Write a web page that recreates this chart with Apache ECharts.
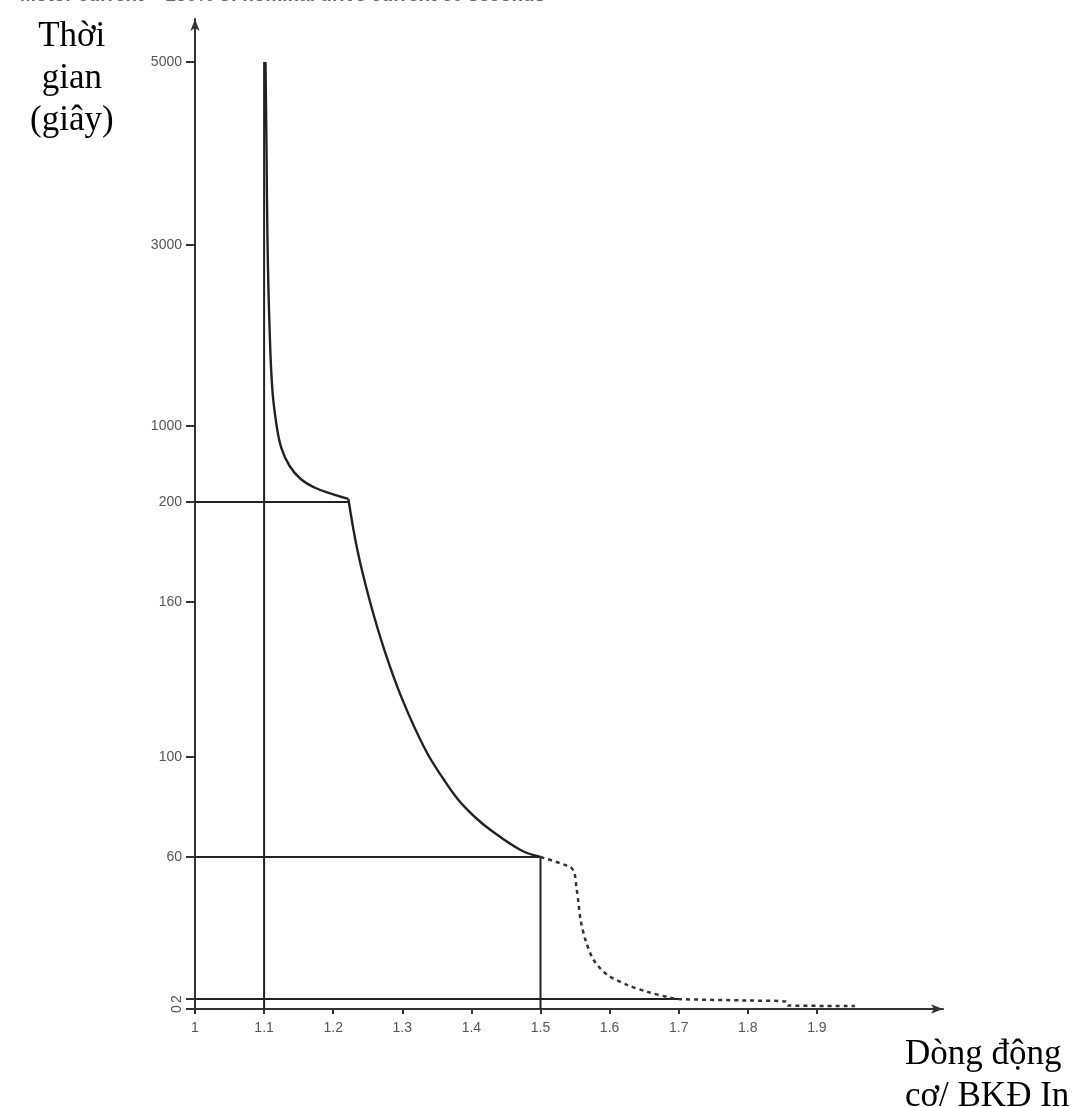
<!DOCTYPE html>
<html><head><meta charset="utf-8">
<script src="https://cdn.jsdelivr.net/npm/echarts@6/dist/echarts.min.js"></script>
<style>html,body{margin:0;padding:0;background:#fff}#c{width:1086px;height:1107px}</style>
</head><body><div id="c"></div>
<script>
// ---- data ----
const xTickValues = [1, 1.1, 1.2, 1.3, 1.4, 1.5, 1.6, 1.7, 1.8, 1.9];
const yTickValues = [0, 2, 60, 100, 160, 200, 1000, 3000, 5000];
// schematic (non-linear) y scale: level of each tick on the axis
const yTickLevels = [0, 1, 15.2, 25.2, 40.7, 50.7, 58.3, 76.4, 94.7];

const upperX = [1.102, 1.1035, 1.105, 1.108, 1.112, 1.118, 1.125, 1.137, 1.153, 1.1744, 1.199, 1.222];
const upperT = [5000, 4038, 3000, 2061, 1398, 1011, 768, 579, 442, 347, 284, 232];
const lowerX = [1.222, 1.235, 1.2526, 1.2741, 1.3003, 1.3336, 1.36, 1.3813, 1.405, 1.4278, 1.4711, 1.5];
const lowerT = [232, 180.8, 160.8, 141.4, 122.1, 102.7, 91, 82.8, 76, 70.8, 62.8, 60];
const dottedX = [1.5, 1.543, 1.549, 1.552, 1.555, 1.558, 1.565, 1.577, 1.597, 1.626, 1.655, 1.684, 1.70, 1.80, 1.855, 1.858, 1.955];
const dottedT = [60, 55.9, 53.5, 47.7, 41.2, 34.3, 26.2, 17.9, 11.8, 7.7, 4.9, 2.8, 2.0, 1.7, 1.5, 0.7, 0.6];

const refHT = [200, 60, 2];          // horizontal reference levels (s)
const refHEndX = [1.222, 1.5, 1.7];  // where they end
const refVX = [1.1, 1.5];            // vertical reference currents
const refVTopT = [5000, 60];

const topNote = 'Motor current = 150% of nominal drive current 60 seconds';
const yTitle = 'Thời\ngian\n(giây)';
const xTitle = 'Dòng động\ncơ/ BKĐ In';

// ---- schematic scale ----
function lv(t) {
  for (let i = 0; i < yTickValues.length - 1; i++) {
    if (t <= yTickValues[i + 1]) {
      return yTickLevels[i] + (t - yTickValues[i]) / (yTickValues[i + 1] - yTickValues[i]) * (yTickLevels[i + 1] - yTickLevels[i]);
    }
  }
  return yTickLevels[yTickLevels.length - 1];
}
function labelOf(level) {
  const i = yTickLevels.findIndex(l => Math.abs(l - level) < 1e-6);
  return i >= 0 ? String(yTickValues[i]) : '';
}

const ink = '#222';
const series = [];
series.push({ type: 'line', data: upperX.map((x, i) => [x, lv(upperT[i])]), smooth: 0.4, showSymbol: false, lineStyle: { color: ink, width: 2.4 }, z: 5 });
series.push({ type: 'line', data: lowerX.map((x, i) => [x, lv(lowerT[i])]), smooth: 0.4, showSymbol: false, lineStyle: { color: ink, width: 2.4 }, z: 5 });
series.push({ type: 'line', data: dottedX.map((x, i) => [x, lv(dottedT[i])]), smooth: 0.3, showSymbol: false, lineStyle: { color: '#333', width: 2.5, type: [4, 4] }, z: 5 });
refHT.forEach((t, i) => series.push({ type: 'line', data: [[1, lv(t)], [refHEndX[i], lv(t)]], showSymbol: false, lineStyle: { color: ink, width: 2 }, z: 3 }));
refVX.forEach((x, i) => series.push({ type: 'line', data: [[x, 0], [x, lv(refVTopT[i])]], showSymbol: false, lineStyle: { color: ink, width: 2 }, z: 3 }));

const lblStyle = { color: '#555', fontFamily: 'Liberation Sans', fontSize: 14 };

const option = {
  animation: false,
  backgroundColor: '#fff',
  grid: { left: 195, right: 143, top: 19, bottom: 98 },
  xAxis: {
    type: 'value', min: 1, max: 2.0825,
    splitLine: { show: false },
    axisLine: { lineStyle: { color: '#333', width: 2 }, symbol: ['none', 'arrow'], symbolSize: [7, 12] },
    axisTick: { customValues: xTickValues, length: 5, lineStyle: { color: '#333', width: 2 } },
    axisLabel: Object.assign({ customValues: xTickValues, margin: 12, formatter: v => String(Math.round(v * 10) / 10) }, lblStyle)
  },
  yAxis: [{
    type: 'value', min: 0, max: 99,
    splitLine: { show: false },
    axisLine: { lineStyle: { color: '#333', width: 2 }, symbol: ['none', 'arrow'], symbolSize: [7, 12] },
    axisTick: { customValues: yTickLevels, length: 9, lineStyle: { color: '#333', width: 2 } },
    axisLabel: Object.assign({ customValues: yTickLevels.slice(2), margin: 13, formatter: v => labelOf(v) }, lblStyle)
  }, {
    type: 'value', min: 0, max: 99, position: 'left',
    splitLine: { show: false }, axisLine: { show: false }, axisTick: { show: false },
    axisLabel: Object.assign({ customValues: yTickLevels.slice(0, 2), margin: 11, rotate: 90, formatter: v => labelOf(v) }, lblStyle)
  }],
  series: series,
  graphic: [
    { type: 'text', left: 20, top: -14, style: { text: topNote, font: 'bold 19px "Liberation Sans"', fill: '#666' } },
    { type: 'text', left: 30, top: 16, style: { text: yTitle, font: '35px "Liberation Serif"', fill: '#000', align: 'center', textAlign: 'center', lineHeight: 42 }, x: 0 },
    { type: 'text', left: 905, top: 1034, style: { text: xTitle, font: '35px "Liberation Serif"', fill: '#000', lineHeight: 42 } }
  ]
};
echarts.init(document.getElementById('c')).setOption(option);
</script></body></html>
